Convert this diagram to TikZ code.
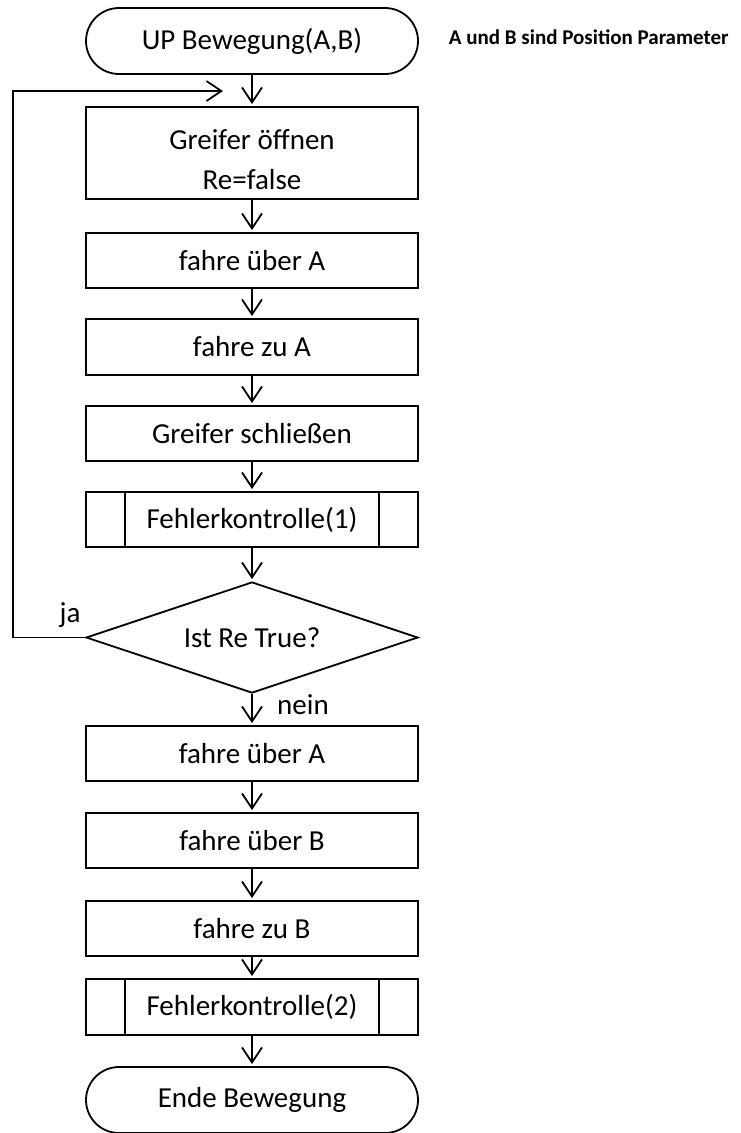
\documentclass[tikz,border=0pt]{standalone}
\usepackage{fontspec}
\setmainfont{Carlito}
\usetikzlibrary{arrows.meta,shapes.geometric}
\begin{document}
\begin{tikzpicture}[x=1pt,y=-1pt,
  line width=1.8pt,
  every node/.style={font=\fontsize{29}{40}\selectfont, inner sep=0pt},
  box/.style={draw, rectangle, minimum width=332pt, minimum height=55pt},
  term/.style={draw, rectangle, rounded corners=33pt, minimum width=332pt, minimum height=66pt},
  subr/.style={box},
  dec/.style={draw, diamond, aspect=3, minimum width=332pt, minimum height=111pt},
  arr/.style={-{Straight Barb[length=15pt,width=20pt]}, shorten >=2pt},
  lbl/.style={}
]
\useasboundingbox (0,0) rectangle (741,1133);
\node[term] (start) at (252,41) {UP Bewegung(A,B)};
\node[anchor=west, font=\fontsize{21}{25}\bfseries\selectfont] (note) at (448,37) {A und B sind Position Parameter};
\node[box, minimum height=92pt] (g1) at (252,153) {};
\node[align=center] (g1t) at (252,160) {Greifer öffnen\\Re=false};
\node[box] (b2) at (252,260.5) {fahre über A};
\node[box, minimum height=56pt] (b3) at (252,347) {fahre zu A};
\node[box] (b4) at (252,433.5) {Greifer schließen};
\node[subr] (f1) at (252,519.5) {Fehlerkontrolle(1)};
\draw ([xshift=40pt]f1.north west) -- ([xshift=40pt]f1.south west);
\draw ([xshift=-40pt]f1.north east) -- ([xshift=-40pt]f1.south east);
\node[dec] (d) at (252,637.5) {Ist Re True?};
\node[box] (b5) at (252,753.5) {fahre über A};
\node[box] (b6) at (252,840.5) {fahre über B};
\node[box] (b7) at (252,928.5) {fahre zu B};
\node[subr, minimum height=56pt] (f2) at (252,1007) {Fehlerkontrolle(2)};
\draw ([xshift=40pt]f2.north west) -- ([xshift=40pt]f2.south west);
\draw ([xshift=-40pt]f2.north east) -- ([xshift=-40pt]f2.south east);
\node[term] (end) at (252,1100) {Ende Bewegung};
\node[lbl] (ja) at (70,615) {ja};
\node[lbl] (nein) at (303,705) {nein};
\coordinate (loopL) at (13,91);
\coordinate (loopT) at (225,91);
\draw[arr] (start) -- (g1);
\draw[arr] (g1) -- (b2);
\draw[arr] (b2) -- (b3);
\draw[arr] (b3) -- (b4);
\draw[arr] (b4) -- (f1);
\draw[arr] (f1) -- (d);
\draw[arr] (d) -- (b5);
\draw[arr] (b5) -- (b6);
\draw[arr] (b6) -- (b7);
\draw[arr] (b7) -- (f2);
\draw[arr] (f2) -- (end);
\draw[arr] (d.west) -| (loopL) -- (loopT);
\end{tikzpicture}
\end{document}
